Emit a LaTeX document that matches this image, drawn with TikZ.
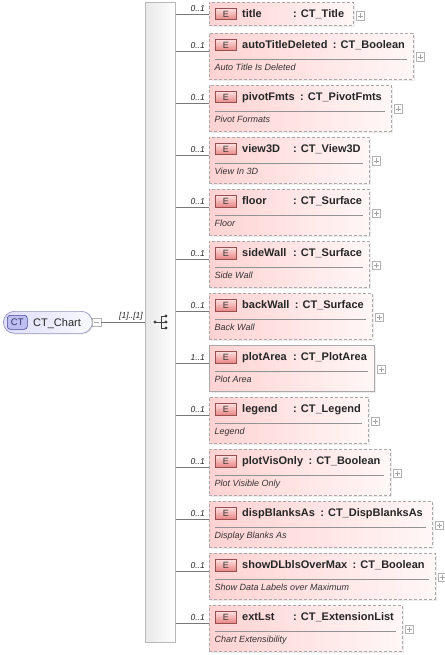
\documentclass[tikz,border=0pt]{standalone}
\usepackage{fontspec}
\setmainfont{Liberation Sans}
\usetikzlibrary{calc,shadows}
\definecolor{pinkA}{RGB}{255,210,210}
\definecolor{pinkB}{RGB}{255,247,247}
\definecolor{eborder}{RGB}{170,170,170}
\definecolor{iconA}{RGB}{232,135,135}
\definecolor{iconB}{RGB}{255,225,225}
\definecolor{iconD}{RGB}{150,80,80}
\definecolor{rootA}{RGB}{222,222,250}
\definecolor{rootB}{RGB}{248,248,255}
\definecolor{rootD}{RGB}{150,150,195}
\definecolor{ctA}{RGB}{190,190,240}
\definecolor{ctD}{RGB}{70,70,150}
\definecolor{linec}{RGB}{120,120,120}
\tikzset{
  ebox/.style={draw=eborder, line width=0.8pt, dash pattern=on 3pt off 2pt, left color=pinkA, right color=pinkB, inner sep=0pt,
    drop shadow={shadow xshift=1.5pt, shadow yshift=-1.5pt, opacity=0.15}},
  eicon/.style={draw=iconD, line width=0.5pt, top color=iconB, bottom color=iconA, minimum width=21pt, minimum height=11.5pt, inner sep=0pt, font=\fontsize{9}{10}\selectfont, text=black!80},
  ename/.style={font=\bfseries\fontsize{11}{13}\selectfont, inner sep=0pt, text=black!85},
  edesc/.style={font=\itshape\fontsize{9}{10}\selectfont, inner sep=0pt, text=black!80},
  card/.style={font=\itshape\fontsize{8.5}{10}\selectfont, inner sep=0pt, text=black!85},
  conn/.style={draw=linec, line width=0.6pt},
  sepline/.style={draw=linec!80, line width=0.6pt},
  plusbox/.style={draw=gray!60, fill=white, minimum size=8.5pt, inner sep=0pt, line width=0.5pt,
    path picture={\draw[gray!70, line width=0.5pt] ([xshift=-2.5pt]path picture bounding box.center) -- ([xshift=2.5pt]path picture bounding box.center);
      \draw[gray!70, line width=0.5pt] ([yshift=-2.5pt]path picture bounding box.center) -- ([yshift=2.5pt]path picture bounding box.center);}},
  minusbox/.style={draw=gray!60, fill=white, minimum size=8.5pt, inner sep=0pt, line width=0.5pt,
    path picture={\draw[gray!70, line width=0.5pt] ([xshift=-2.5pt]path picture bounding box.center) -- ([xshift=2.5pt]path picture bounding box.center);}},
}
% #1 id, #2 top, #3 right edge, #4 cardinality, #5 name, #6 type, #7 description, #8 extra style
\newcommand\elemrow[8]{%
  \node[ebox,#8,anchor=north west,minimum width={#3-209},minimum height=46pt] (e#1) at (209,#2) {};
  \coordinate (l#1) at (209,#2+18);
  \draw[conn] (bar.east |- l#1) -- (l#1);
  \node[card,anchor=base east] (c#1) at (205,#2+15.5) {#4};
  \node[eicon,anchor=north west] (i#1) at (215,#2+6) {E};
  \node[ename,anchor=base west] (n#1) at (242,#2+15.5) {#5};
  \path let \p1=(n#1.base east) in node[ename,anchor=base west] (t#1) at ({max(\x1+5pt,293pt)},\y1) {: #6};
  \draw[sepline] (215,#2+26) -- (#3-6,#2+26);
  \node[edesc,anchor=base west] (d#1) at (214.5,#2+37.5) {#7};
  \node[plusbox] (p#1) at (#3+7,#2+24) {};
}
\begin{document}
\begin{tikzpicture}[x=1pt,y=-1pt]
\useasboundingbox[fill=white] (0,0) rectangle (444,655);
% sequence bar
\node[draw=gray!55, line width=0.6pt, left color=gray!18, right color=white, minimum width=30pt, minimum height=640pt, inner sep=0pt, anchor=north west] (bar) at (145,2) {};
% root
\node[draw=rootD, line width=0.7pt, rounded corners=11pt, left color=rootA, right color=rootB, minimum width=89pt, minimum height=22pt, inner sep=0pt, anchor=north west,
  drop shadow={shadow xshift=1.2pt, shadow yshift=-1.2pt, opacity=0.15}] (root) at (3,311) {};
\node[draw=ctD, line width=0.6pt, rounded corners=3pt, fill=ctA, minimum width=20pt, minimum height=14pt, inner sep=0pt, anchor=north west, font=\fontsize{9.5}{10}\selectfont, text=ctD!70!black] (ct) at (7,315) {CT};
\node[font=\fontsize{11}{13}\selectfont, inner sep=0pt, anchor=base west, text=black!85] (rname) at (33,326) {CT\_Chart};
\node[minusbox] (rminus) at (96.5,322) {};
\draw[conn] (rminus.east) -- (bar.west |- rminus.east);
\node[card,anchor=base east] (rcard) at (143,318.5) {[1]..[1]};
% sequence icon
\coordinate (sq0) at (155,322);
\coordinate (sqv) at (161,322);
\draw[black!75, line width=0.8pt] (sq0) -- (sqv) (161,316) -- (161,328) (161,316) -- (166,316) (sqv) -- (166,322) (161,328) -- (166,328);
\fill[black!75] (sq0) circle (1.7pt) (166,316) circle (1.6pt) (166,322) circle (1.6pt) (166,328) circle (1.6pt);
% title (single row)
\node[ebox,anchor=north west,minimum width=144pt,minimum height=23pt] (etitle) at (209,2) {};
\coordinate (ltitle) at (209,14);
\draw[conn] (bar.east |- ltitle) -- (ltitle);
\node[card,anchor=base east] (ctitle) at (205,11.5) {0..1};
\node[eicon,anchor=north west] (ititle) at (215,8) {E};
\node[ename,anchor=base west] (ntitle) at (242,17.5) {title};
\node[ename,anchor=base west] (ttitle) at (293,17.5) {: CT\_Title};
\node[plusbox] (ptitle) at (360,16) {};
% remaining elements
\elemrow{atd}{33}{413}{0..1}{autoTitleDeleted}{CT\_Boolean}{Auto Title Is Deleted}{}
\elemrow{pf}{85}{391}{0..1}{pivotFmts}{CT\_PivotFmts}{Pivot Formats}{}
\elemrow{v3}{137}{369}{0..1}{view3D}{CT\_View3D}{View In 3D}{}
\elemrow{fl}{189}{369}{0..1}{floor}{CT\_Surface}{Floor}{}
\elemrow{sw}{241}{369}{0..1}{sideWall}{CT\_Surface}{Side Wall}{}
\elemrow{bw}{293}{372}{0..1}{backWall}{CT\_Surface}{Back Wall}{}
\elemrow{pa}{345}{374}{1..1}{plotArea}{CT\_PlotArea}{Plot Area}{solid}
\elemrow{lg}{397}{368}{0..1}{legend}{CT\_Legend}{Legend}{}
\elemrow{pv}{449}{390}{0..1}{plotVisOnly}{CT\_Boolean}{Plot Visible Only}{}
\elemrow{db}{501}{432}{0..1}{dispBlanksAs}{CT\_DispBlanksAs}{Display Blanks As}{}
\elemrow{sd}{553}{435}{0..1}{showDLblsOverMax}{CT\_Boolean}{Show Data Labels over Maximum}{}
\elemrow{el}{605}{402}{0..1}{extLst}{CT\_ExtensionList}{Chart Extensibility}{}
\end{tikzpicture}
\end{document}
